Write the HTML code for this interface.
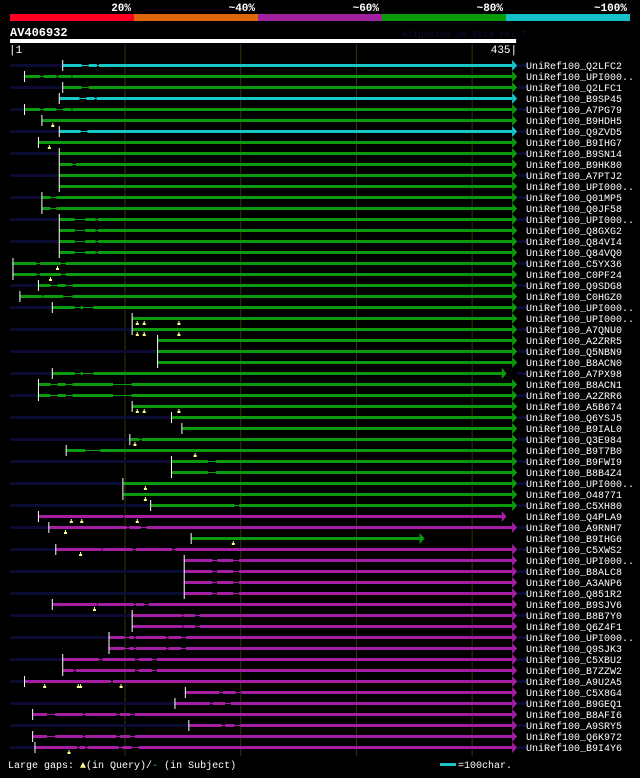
<!DOCTYPE html>
<html><head><meta charset="utf-8"><style>
html,body{margin:0;padding:0;background:#000;}
body{width:640px;height:773px;overflow:hidden;position:relative;}
svg text{font-family:"Liberation Mono",monospace;}
</style></head><body>
<svg id="chart" width="640" height="773" xmlns="http://www.w3.org/2000/svg"></svg>
<script>
const labels=["Q2LFC2","UPI000..","Q2LFC1","B9SP45","A7PG79","B9HDH5","Q9ZVD5","B9IHG7","B9SN14","B9HK80","A7PTJ2","UPI000..","Q01MP5","Q0JF58","UPI000..","Q8GXG2","Q84VI4","Q84VQ0","C5YX36","C0PF24","Q9SDG8","C0HGZ0","UPI000..","UPI000..","A7QNU0","A2ZRR5","Q5NBN9","B8ACN0","A7PX98","B8ACN1","A2ZRR6","A5B674","Q6YSJ5","B9IAL0","Q3E984","B9T7B0","B9FWI9","B8B4Z4","UPI000..","O48771","C5XH80","Q4PLA9","A9RNH7","B9IHG6","C5XWS2","UPI000..","B8ALC8","A3ANP6","Q851R2","B9SJV6","B8B7Y0","Q6Z4F1","UPI000..","Q9SJK3","C5XBU2","B7ZZW2","A9U2A5","C5X8G4","B9GEQ1","B8AFI6","A9SRY5","Q6K972","B9I4Y6"];
const colorClass="CGGCGGCGGGGGGGGGGGGGGGGGGGGGGGGGGGGGGGGGGMMGMMMMMMMMMMMMMMMMMMM";
const starts=[47,14,47,44,14,29,44,26,44,44,44,44,29,29,44,44,44,44,4,4,26,10,38,107,107,129,129,129,38,26,26,107,141,150,105,50,141,141,99,99,123,26,35,158,41,152,152,152,152,38,107,107,87,87,47,47,14,153,144,21,156,21,23];
const ends=[435,435,435,435,435,435,435,435,435,435,435,435,435,435,435,435,435,435,435,435,435,435,435,435,435,435,435,435,426,435,435,435,435,435,435,435,435,435,435,435,435,426,435,355,435,435,435,435,435,435,435,435,435,435,435,435,435,435,435,435,435,435,435];
const gaps=[[[63,69],[76,78]],[[27,30],[41,43],[54,55]],[[63,69]],[[61,67],[74,76]],[[27,30],[41,47],[54,55]],[],[[62,68]],[],[],[[55,58]],[],[],[[36,41]],[[36,41]],[[57,66],[75,77]],[[57,66],[75,77]],[[57,66],[75,77]],[[57,66],[75,77]],[[24,27],[45,49]],[[24,27],[45,49]],[[36,42],[49,55]],[[29,30],[47,55]],[[57,62],[64,73]],[],[],[],[],[],[[57,62],[64,73]],[[36,42],[49,55],[90,106]],[[36,42],[49,55],[90,106]],[],[],[],[[113,115]],[[66,79]],[[172,179]],[[172,179]],[],[],[[195,199]],[[99,100]],[[102,104],[114,119]],[],[[80,81],[107,110],[141,144]],[[176,180],[194,199]],[[176,180],[194,199]],[[176,180],[194,199]],[[176,180],[194,199]],[[76,77],[108,110],[117,121]],[[150,151],[161,165]],[[150,151],[161,165]],[[100,104],[108,110],[136,138],[149,153]],[[100,104],[108,110],[136,138],[149,153]],[[78,81],[109,112],[124,128]],[[56,58],[109,112],[124,128]],[[88,90]],[[182,185],[196,201]],[[174,176],[187,192]],[[33,40],[64,66],[93,96],[105,109]],[[184,187],[195,200]],[[33,40],[64,66],[93,96],[105,109]],[[59,61],[66,68],[95,98],[106,112]]];
const qgaps=[[],[],[],[],[],[38],[],[35],[],[],[],[],[],[],[],[],[],[],[42],[36],[],[],[],[111,117,147],[111,117,147],[],[],[],[],[],[],[111,117,147],[],[],[109],[161],[],[],[118],[118],[],[54,63,111],[49],[194],[62],[],[],[],[],[74],[],[],[],[],[],[],[31,60,62,97],[],[],[],[],[],[52]];
const gridTicks=[100,200,300,400];
const pctLabels=["20%","~40%","~60%","~80%","~100%"];

const NS="http://www.w3.org/2000/svg";
const svg=document.getElementById('chart');
const X=r=>10+(r-1)*1.157;
const rowY=i=>65+i*11;
const COL={C:"#17c6c6",G:"#0b9a0b",M:"#a31ea3"};
function el(t,a,p){const e=document.createElementNS(NS,t);for(const k in a)e.setAttribute(k,a[k]);(p||svg).appendChild(e);return e;}

const keyCols=["#ff0022","#e0660a","#a020a0","#079c07","#17c0c8"];
pctLabels.forEach((l,i)=>{
  const r=el('rect',{x:10+i*124,y:14,width:124,height:7,fill:keyCols[i]});
  
  
  const t=el('text',{x:10+(i+1)*124-3,y:11,fill:"#fff","font-size":"11","font-weight":"bold","text-anchor":"end"});
  t.textContent=l;
  
  
});
let t=el('text',{x:10,y:36,fill:"#fff","font-size":"12","font-weight":"bold"});t.textContent="AV406932";

t=el('text',{x:402,y:37,fill:"#0d0d3a","font-size":"9"});t.textContent="AlignView.pm Beta rel.7";

let r=el('rect',{x:10,y:39,width:X(435)-10+4,height:4,fill:"#fff"});

t=el('text',{x:9,y:53,fill:"#fff","font-size":"11"});t.textContent="|1";

t=el('text',{x:X(435)+5,y:53,fill:"#fff","font-size":"11","text-anchor":"end"});t.textContent="435|";

gridTicks.forEach(g=>{
  const l=el('line',{x1:X(g)+0.5,x2:X(g)+0.5,y1:44,y2:756,stroke:"#33330f","stroke-width":1});
  
  
});
labels.forEach((lab,i)=>{
  const y=rowY(i), c=COL[colorClass[i]];
  const g=el('g',{});
  
  
  if(i%2===0){el('rect',{x:10,y:y-1,width:X(starts[i])-10,height:3,fill:"#0a0a33"},g);el('rect',{x:X(435)+5,y:y-1,width:10,height:3,fill:"#0a0a33"},g);}
  let segs=[],cur=starts[i];
  gaps[i].forEach(gp=>{segs.push([cur,gp[0]]);cur=gp[1];});
  segs.push([cur,ends[i]]);
  el('rect',{x:X(starts[i]),y:y,width:X(ends[i])-X(starts[i]),height:1,fill:c},g);
  segs.forEach(s=>el('rect',{x:X(s[0]),y:y-1,width:Math.max(1,X(s[1])-X(s[0])),height:3,fill:c},g));
  el('polygon',{points:`${X(ends[i])},${y-5} ${X(ends[i])+5},${y+0.5} ${X(ends[i])},${y+6}`,fill:c},g);
  el('rect',{x:X(starts[i])-1,y:y-5,width:1,height:11,fill:"#fff"},g);
  qgaps[i].forEach(q=>{
    const m=el('g',{},g);
    
    
    el('rect',{x:X(q)-0.5,y:y+3,width:1,height:3,fill:"#ffff88"},m);
    el('rect',{x:X(q)-1.5,y:y+5,width:3,height:2,fill:"#ffff88"},m);
  });
  const tx=el('text',{x:526,y:y+4,fill:"#fff","font-size":"10"},g);
  tx.textContent="UniRef100_"+lab;
});
t=el('text',{x:8,y:768,fill:"#fff","font-size":"10"});
t.innerHTML='Large gaps: <tspan fill="#ffff88">▲</tspan>(in Query)/<tspan fill="#17c6c6">-</tspan> (in Subject)';

r=el('rect',{x:440,y:763,width:16,height:3,fill:"#17c6c6"});

t=el('text',{x:458,y:768,fill:"#fff","font-size":"10"});t.textContent="=100char.";

</script>
</body></html>
